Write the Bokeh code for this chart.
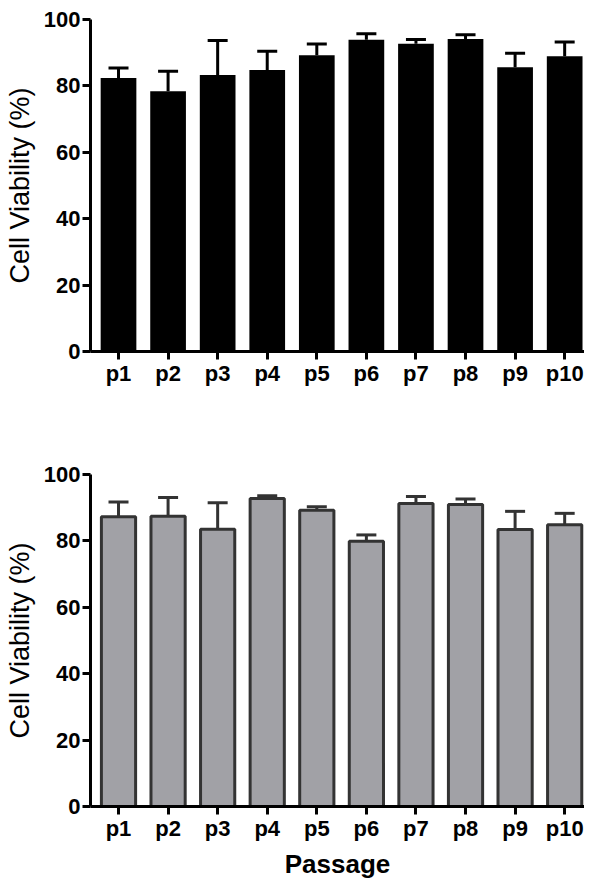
from bokeh.plotting import figure
from bokeh.layouts import column
from bokeh.models import ColumnDataSource, Range1d, FixedTicker, Whisker, TeeHead
from bokeh.embed import file_html
from bokeh.resources import INLINE

passages = ["p1", "p2", "p3", "p4", "p5", "p6", "p7", "p8", "p9", "p10"]
y_ticks = [0, 20, 40, 60, 80, 100]

top_mean = [82.4, 78.4, 83.3, 84.8, 89.2, 93.9, 92.7, 94.1, 85.6, 88.9]
top_sd = [3.0, 6.0, 10.4, 5.6, 3.4, 1.8, 1.3, 1.3, 4.2, 4.3]

bottom_mean = [87.3, 87.4, 83.5, 92.8, 89.2, 79.9, 91.3, 91.0, 83.4, 84.9]
bottom_sd = [4.4, 5.7, 8.0, 0.8, 1.1, 1.9, 2.1, 1.6, 5.5, 3.4]

FONT = "Liberation Sans"


def make_panel(means, sds, fill, line, height, border_top, border_bottom, xlabel):
    pos = [i + 1 for i in range(len(passages))]
    src = ColumnDataSource(dict(
        x=pos, top=means, upper=[m + s for m, s in zip(means, sds)],
    ))
    p = figure(width=584, height=height, output_backend="svg", toolbar_location=None,
               x_range=Range1d(0.435, 10.40), y_range=Range1d(0, 100),
               min_border_left=90, min_border_right=0, min_border_top=border_top,
               min_border_bottom=border_bottom)
    p.outline_line_color = None
    p.grid.visible = False
    p.background_fill_color = "white"
    p.border_fill_color = "white"

    if line is None:
        p.vbar(x="x", top="top", bottom=0, width=0.72, source=src,
               fill_color=fill, line_color=None)
        wcol = "black"
    else:
        p.vbar(x="x", top="top", bottom=0, width=0.69, source=src,
               fill_color=fill, line_color=line, line_width=3)
        wcol = line

    w = Whisker(base="x", lower="top", upper="upper", source=src, dimension="height",
                line_color=wcol, line_width=3,
                upper_head=TeeHead(size=20, line_color=wcol, line_width=3),
                lower_head=None)
    p.add_layout(w)

    for ax in (p.xaxis[0], p.yaxis[0]):
        ax.axis_line_width = 3
        ax.axis_line_color = "black"
        ax.major_tick_line_width = 3
        ax.major_tick_line_color = "black"
        ax.major_tick_out = 8
        ax.major_tick_in = 0
        ax.minor_tick_line_color = None
        ax.major_label_text_font = FONT
        ax.major_label_text_font_style = "bold"
        ax.major_label_text_font_size = "22px"
        ax.major_label_text_color = "black"

    p.xaxis.ticker = FixedTicker(ticks=pos)
    p.xaxis.major_label_overrides = {k: v for k, v in zip(pos, passages)}
    p.xaxis.major_label_standoff = 1
    p.yaxis.ticker = FixedTicker(ticks=y_ticks)
    p.yaxis.major_label_standoff = 2

    p.yaxis.axis_label = "Cell Viability (%)"
    p.yaxis.axis_label_text_font = FONT
    p.yaxis.axis_label_text_font_style = "normal"
    p.yaxis.axis_label_text_font_size = "27px"
    p.yaxis.axis_label_text_color = "black"
    p.yaxis.axis_label_standoff = 6

    if xlabel:
        p.xaxis.axis_label = xlabel
        p.xaxis.axis_label_text_font = FONT
        p.xaxis.axis_label_text_font_style = "bold"
        p.xaxis.axis_label_text_font_size = "26px"
        p.xaxis.axis_label_text_color = "black"
        p.xaxis.axis_label_standoff = 5
    return p


p_top = make_panel(top_mean, top_sd, "black", None, 463, 19, 112, None)
p_bot = make_panel(bottom_mean, bottom_sd, "#a1a1a6", "#333333", 420, 11, 77, "Passage")

layout = column(p_top, p_bot, spacing=0)
open("out.html", "w").write(file_html(layout, INLINE))
